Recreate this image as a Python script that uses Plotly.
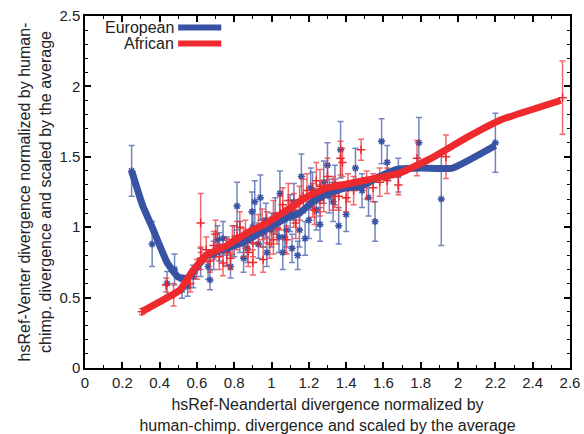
import plotly.graph_objects as go

# European (blue) points: x, y, error
eu_x = [0.25, 0.36, 0.44, 0.48, 0.52, 0.55, 0.58, 0.62, 0.66, 0.67, 0.69, 0.71, 0.72, 0.74, 0.76,
        0.78, 0.80, 0.815, 0.83, 0.85, 0.87, 0.895, 0.90, 0.91, 0.93, 0.94, 0.955, 0.97, 0.975, 1.00,
        1.02, 1.04, 1.045, 1.06, 1.07, 1.08, 1.10, 1.11, 1.12, 1.14, 1.15, 1.16, 1.18, 1.20, 1.21,
        1.22, 1.24, 1.26, 1.28, 1.30, 1.31, 1.33, 1.34, 1.36, 1.37, 1.40, 1.45, 1.485, 1.52, 1.555,
        1.59, 1.62, 1.68, 1.79, 1.91, 2.20]
eu_y = [1.40, 0.88, 0.60, 0.70, 0.555, 0.58, 0.65, 0.75, 0.72, 0.625, 0.80, 0.91, 0.86, 0.92, 0.83,
        0.72, 0.90, 1.15, 0.93, 0.78, 0.85, 1.11, 1.00, 1.18, 0.88, 1.21, 0.96, 1.05, 0.82, 0.98,
        1.08, 0.93, 1.24, 0.82, 0.93, 0.98, 1.10, 0.85, 1.18, 0.80, 0.98, 1.36, 0.92, 1.05, 1.28,
        1.26, 1.12, 1.02, 1.32, 1.44, 1.22, 1.18, 1.30, 1.01, 1.55, 1.09, 1.42, 1.26, 1.21, 1.04,
        1.61, 1.46, 1.37, 1.60, 1.20, 1.60]
eu_err = [0.18, 0.16, 0.085, 0.11, 0.06, 0.07, 0.08, 0.10, 0.09, 0.07, 0.10, 0.10, 0.10, 0.12, 0.10,
          0.08, 0.11, 0.17, 0.11, 0.10, 0.10, 0.14, 0.12, 0.15, 0.10, 0.16, 0.10, 0.12, 0.10, 0.12,
          0.13, 0.11, 0.16, 0.12, 0.11, 0.12, 0.13, 0.10, 0.13, 0.10, 0.12, 0.16, 0.12, 0.13, 0.14,
          0.13, 0.14, 0.12, 0.15, 0.16, 0.12, 0.14, 0.14, 0.13, 0.20, 0.12, 0.14, 0.12, 0.13, 0.14,
          0.16, 0.12, 0.12, 0.18, 0.33, 0.21]

# African (red) points: x, y, error
af_x = [0.305, 0.435, 0.475, 0.565, 0.60, 0.62, 0.62, 0.65, 0.67, 0.69, 0.70, 0.72, 0.74, 0.76, 0.78,
        0.79, 0.815, 0.83, 0.85, 0.86, 0.875, 0.90, 0.90, 0.93, 0.95, 0.955, 0.975, 0.99, 1.01, 1.01,
        1.03, 1.045, 1.06, 1.08, 1.09, 1.12, 1.13, 1.15, 1.17, 1.19, 1.22, 1.23, 1.24, 1.26, 1.26,
        1.28, 1.30, 1.33, 1.34, 1.36, 1.37, 1.38, 1.40, 1.41, 1.44, 1.48, 1.51, 1.545, 1.58, 1.62,
        1.68, 1.78, 1.935, 2.56]
af_y = [0.40, 0.59, 0.52, 0.60, 0.70, 1.03, 0.78, 0.84, 0.76, 0.87, 0.95, 0.79, 0.745, 0.82, 0.78,
        0.91, 0.94, 1.00, 0.89, 0.95, 0.82, 0.89, 0.75, 0.98, 1.02, 0.77, 1.00, 0.88, 1.07, 0.91,
        0.99, 1.10, 1.16, 0.91, 1.19, 1.12, 1.03, 1.17, 1.22, 1.26, 1.19, 1.12, 1.33, 1.29, 1.19,
        1.22, 1.36, 1.24, 1.24, 1.22, 1.49, 1.46, 1.21, 1.28, 1.26, 1.55, 1.30, 1.28, 1.32, 1.33,
        1.30, 1.49, 1.50, 1.92]
af_err = [0.02, 0.05, 0.08, 0.06, 0.07, 0.21, 0.08, 0.09, 0.08, 0.10, 0.10, 0.09, 0.09, 0.10, 0.08,
          0.10, 0.10, 0.11, 0.10, 0.10, 0.10, 0.10, 0.09, 0.11, 0.11, 0.09, 0.11, 0.10, 0.12, 0.10,
          0.11, 0.12, 0.12, 0.10, 0.12, 0.12, 0.11, 0.12, 0.12, 0.12, 0.12, 0.10, 0.13, 0.12, 0.11,
          0.11, 0.13, 0.12, 0.10, 0.10, 0.12, 0.10, 0.10, 0.10, 0.10, 0.075, 0.10, 0.10, 0.10, 0.09,
          0.07, 0.125, 0.155, 0.26]

# Smoothed trend curves
eu_line_x = [0.25, 0.31, 0.36, 0.44, 0.50, 0.55, 0.60, 0.65, 0.69, 0.76, 0.85, 0.94, 1.01, 1.08,
             1.15, 1.22, 1.30, 1.40, 1.475, 1.58, 1.67, 1.80, 1.97, 2.20]
eu_line_y = [1.40, 1.15, 1.00, 0.75, 0.645, 0.64, 0.72, 0.80, 0.82, 0.85, 0.895, 0.96, 1.015, 1.065,
             1.10, 1.18, 1.24, 1.28, 1.29, 1.36, 1.41, 1.42, 1.42, 1.58]
af_line_x = [0.305, 0.40, 0.51, 0.58, 0.65, 0.76, 0.87, 0.975, 1.08, 1.19, 1.30, 1.42, 1.51, 1.69,
             1.87, 2.05, 2.225, 2.55]
af_line_y = [0.40, 0.47, 0.555, 0.695, 0.80, 0.87, 0.96, 1.03, 1.12, 1.215, 1.28, 1.31, 1.335, 1.385,
             1.50, 1.64, 1.76, 1.90]

x_ticks = [0, 0.2, 0.4, 0.6, 0.8, 1, 1.2, 1.4, 1.6, 1.8, 2, 2.2, 2.4, 2.6]
x_tick_text = ["0", "0.2", "0.4", "0.6", "0.8", "1", "1.2", "1.4", "1.6", "1.8", "2", "2.2", "2.4", "2.6"]
y_ticks = [0, 0.5, 1, 1.5, 2, 2.5]
y_tick_text = ["0", "0.5", "1", "1.5", "2", "2.5"]

BLUE = "#3953a4"
RED = "#ee2a2e"
FONT = "Liberation Sans"

fig = go.Figure()
fig.add_trace(go.Scatter(
    x=eu_x, y=eu_y, mode="markers", showlegend=False,
    marker=dict(symbol="asterisk-open", size=6, color=BLUE, line=dict(width=1.5, color=BLUE)),
    error_y=dict(type="data", array=eu_err, color="rgba(57,83,164,0.7)", thickness=1.5, width=3),
))
fig.add_trace(go.Scatter(
    x=af_x, y=af_y, mode="markers", showlegend=False,
    marker=dict(symbol="cross-thin-open", size=6, color=RED, line=dict(width=1.5, color=RED)),
    error_y=dict(type="data", array=af_err, color="rgba(238,42,46,0.7)", thickness=1.5, width=3),
))
fig.add_trace(go.Scatter(
    x=eu_line_x, y=eu_line_y, mode="lines", showlegend=False,
    line=dict(color=BLUE, width=7, shape="spline", smoothing=0.4),
))
fig.add_trace(go.Scatter(
    x=af_line_x, y=af_line_y, mode="lines", showlegend=False,
    line=dict(color=RED, width=7, shape="spline", smoothing=0.4),
))

axis_common = dict(
    showgrid=False, zeroline=False, showline=True, linecolor="black", linewidth=1.5,
    mirror="ticks", ticks="inside", ticklen=6, tickwidth=1.5, tickcolor="black",
    tickfont=dict(family=FONT, size=15, color="#222"), automargin=False,
    minor=dict(ticks="inside", ticklen=3, tickwidth=1.2, tickcolor="black", dtick=0.1),
)

fig.update_xaxes(range=[0, 2.6], tickvals=x_ticks, ticktext=x_tick_text,
                 title=dict(text="hsRef-Neandertal divergence normalized by<br>human-chimp. divergence and scaled by the average",
                            font=dict(family=FONT, size=16, color="#222"), standoff=10),
                 **axis_common)
fig.update_yaxes(range=[0, 2.5], tickvals=y_ticks, ticktext=y_tick_text,
                 title=dict(text="hsRef-Venter divergence normalized by human-<br>chimp. divergence and scaled by the average",
                            font=dict(family=FONT, size=16, color="#222"), standoff=4),
                 **axis_common)

# Legend drawn manually (text on left, line sample on right)
legend_items = [("European", BLUE, 0.967), ("African", RED, 0.922)]
for name, col, yy in legend_items:
    fig.add_annotation(x=0.188, y=yy, xref="paper", yref="paper", text=name, showarrow=False,
                       xanchor="right", yanchor="middle", font=dict(family=FONT, size=16, color="#222"))
    fig.add_shape(type="line", xref="paper", yref="paper", x0=0.192, x1=0.281, y0=yy, y1=yy,
                  line=dict(color=col, width=6))

fig.update_layout(
    width=584, height=434,
    margin=dict(l=85, r=14, t=16, b=66),
    plot_bgcolor="white", paper_bgcolor="white",
    font=dict(family=FONT),
)

fig.write_html("out.html", config={"displayModeBar": False})

# remove default browser body margin so the figure sits at the window's corner
with open("out.html", "r", encoding="utf-8") as f:
    html = f.read()
html = html.replace("<head>", "<head><style>html,body{margin:0;padding:0;overflow:hidden;}</style>", 1)
with open("out.html", "w", encoding="utf-8") as f:
    f.write(html)
